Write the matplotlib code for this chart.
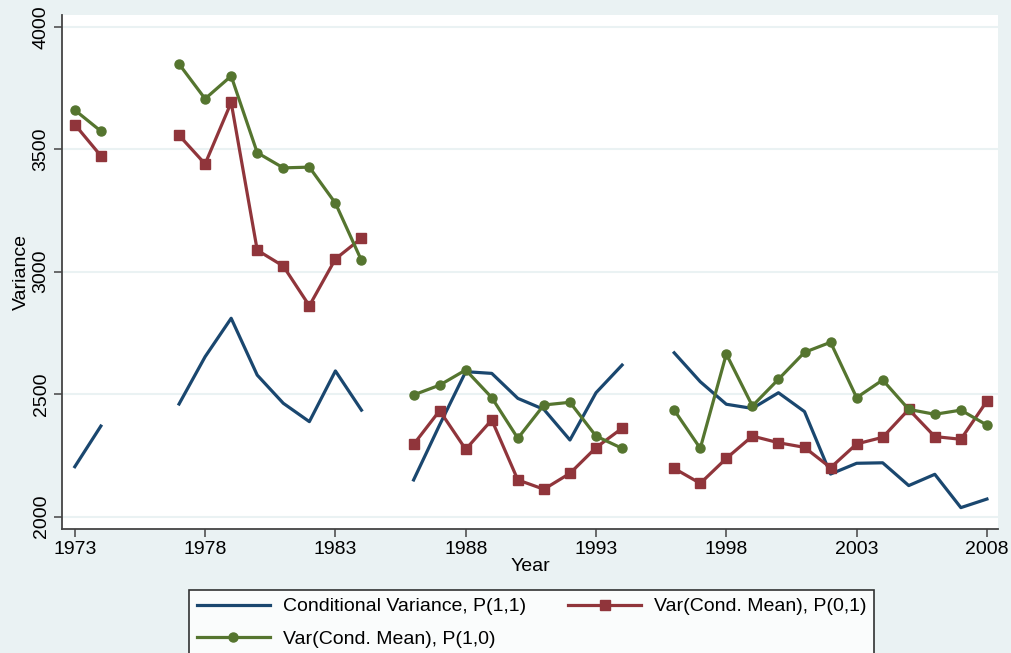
import numpy as np
import matplotlib
matplotlib.use("Agg")
import matplotlib.pyplot as plt

plt.rcParams['font.family'] = ['Liberation Sans', 'DejaVu Sans']

nan = np.nan
years = list(range(1973, 2009))

# Conditional Variance, P(1,1)
cond_var = [2204, 2370, nan, nan, 2460, 2653, 2810, 2578, 2463, 2388, 2595, 2435,
            nan, 2150, 2375, 2592, 2585, 2483, 2438, 2313, 2506, 2619,
            nan, 2669, 2551, 2459, 2442, 2506, 2429, 2174, 2218, 2220, 2127, 2173, 2037, 2072]
# Var(Cond. Mean), P(0,1)
var_p01 = [3601, 3473, nan, nan, 3557, 3440, 3691, 3088, 3023, 2861, 3052, 3137,
           nan, 2295, 2433, 2275, 2395, 2150, 2112, 2177, 2282, 2361,
           nan, 2197, 2136, 2238, 2329, 2302, 2283, 2200, 2297, 2324, 2438, 2327, 2316, 2472]
# Var(Cond. Mean), P(1,0)
var_p10 = [3660, 3574, nan, nan, 3848, 3706, 3799, 3486, 3424, 3427, 3280, 3046,
           nan, 2497, 2537, 2599, 2486, 2320, 2456, 2467, 2329, 2279,
           nan, 2435, 2279, 2664, 2452, 2561, 2671, 2712, 2486, 2558, 2438, 2418, 2435, 2374]

xticks = [1973, 1978, 1983, 1988, 1993, 1998, 2003, 2008]
yticks = [2000, 2500, 3000, 3500, 4000]

bg = '#EAF2F3'
blue = '#1A476F'
red = '#90353B'
green = '#55752F'

fig = plt.figure(figsize=(10.12, 6.53), dpi=100, facecolor=bg)
ax = fig.add_axes([0.0613, 0.19, 0.925, 0.787])
ax.set_facecolor('white')

l1, = ax.plot(years, cond_var, color=blue, lw=2.3, label='Conditional Variance, P(1,1)', zorder=3)
l2, = ax.plot(years, var_p01, color=red, lw=2.3, marker='s', ms=6.5, label='Var(Cond. Mean), P(0,1)', zorder=3)
l3, = ax.plot(years, var_p10, color=green, lw=2.3, marker='o', ms=6.5, label='Var(Cond. Mean), P(1,0)', zorder=3)

ax.set_xlim(1972.51, 2008.43)
ax.set_ylim(1950, 4048)
ax.set_xticks(xticks)
ax.set_yticks(yticks)
ax.set_yticklabels([str(v) for v in yticks], rotation=90, va='center')
ax.tick_params(axis='both', labelsize=14, length=6, width=1.1, color='#444444', pad=3)
ax.grid(axis='y', color=bg, lw=1.5, zorder=0)
for s in ['top', 'right']:
    ax.spines[s].set_visible(False)
for s in ['left', 'bottom']:
    ax.spines[s].set_color('#444444')
    ax.spines[s].set_linewidth(1.3)

ax.set_xlabel('Year', fontsize=14, labelpad=0)
ax.set_ylabel('Variance', fontsize=14, labelpad=2)

# legend is filled column by column, so order gives rows: (l1, l2), (l3)
handles = [l1, l3, l2]
leg = fig.legend(handles, [h.get_label() for h in handles], loc='upper left',
                 bbox_to_anchor=(0.187, 0.0965), ncol=2,
                 fontsize=14, frameon=True, fancybox=False, edgecolor='black',
                 handlelength=3.75, handletextpad=0.65, columnspacing=2.2,
                 labelspacing=0.75, borderpad=0.4, borderaxespad=0)
leg.get_frame().set_linewidth(1.2)

fig.savefig('out.png', dpi=100, facecolor=bg)
